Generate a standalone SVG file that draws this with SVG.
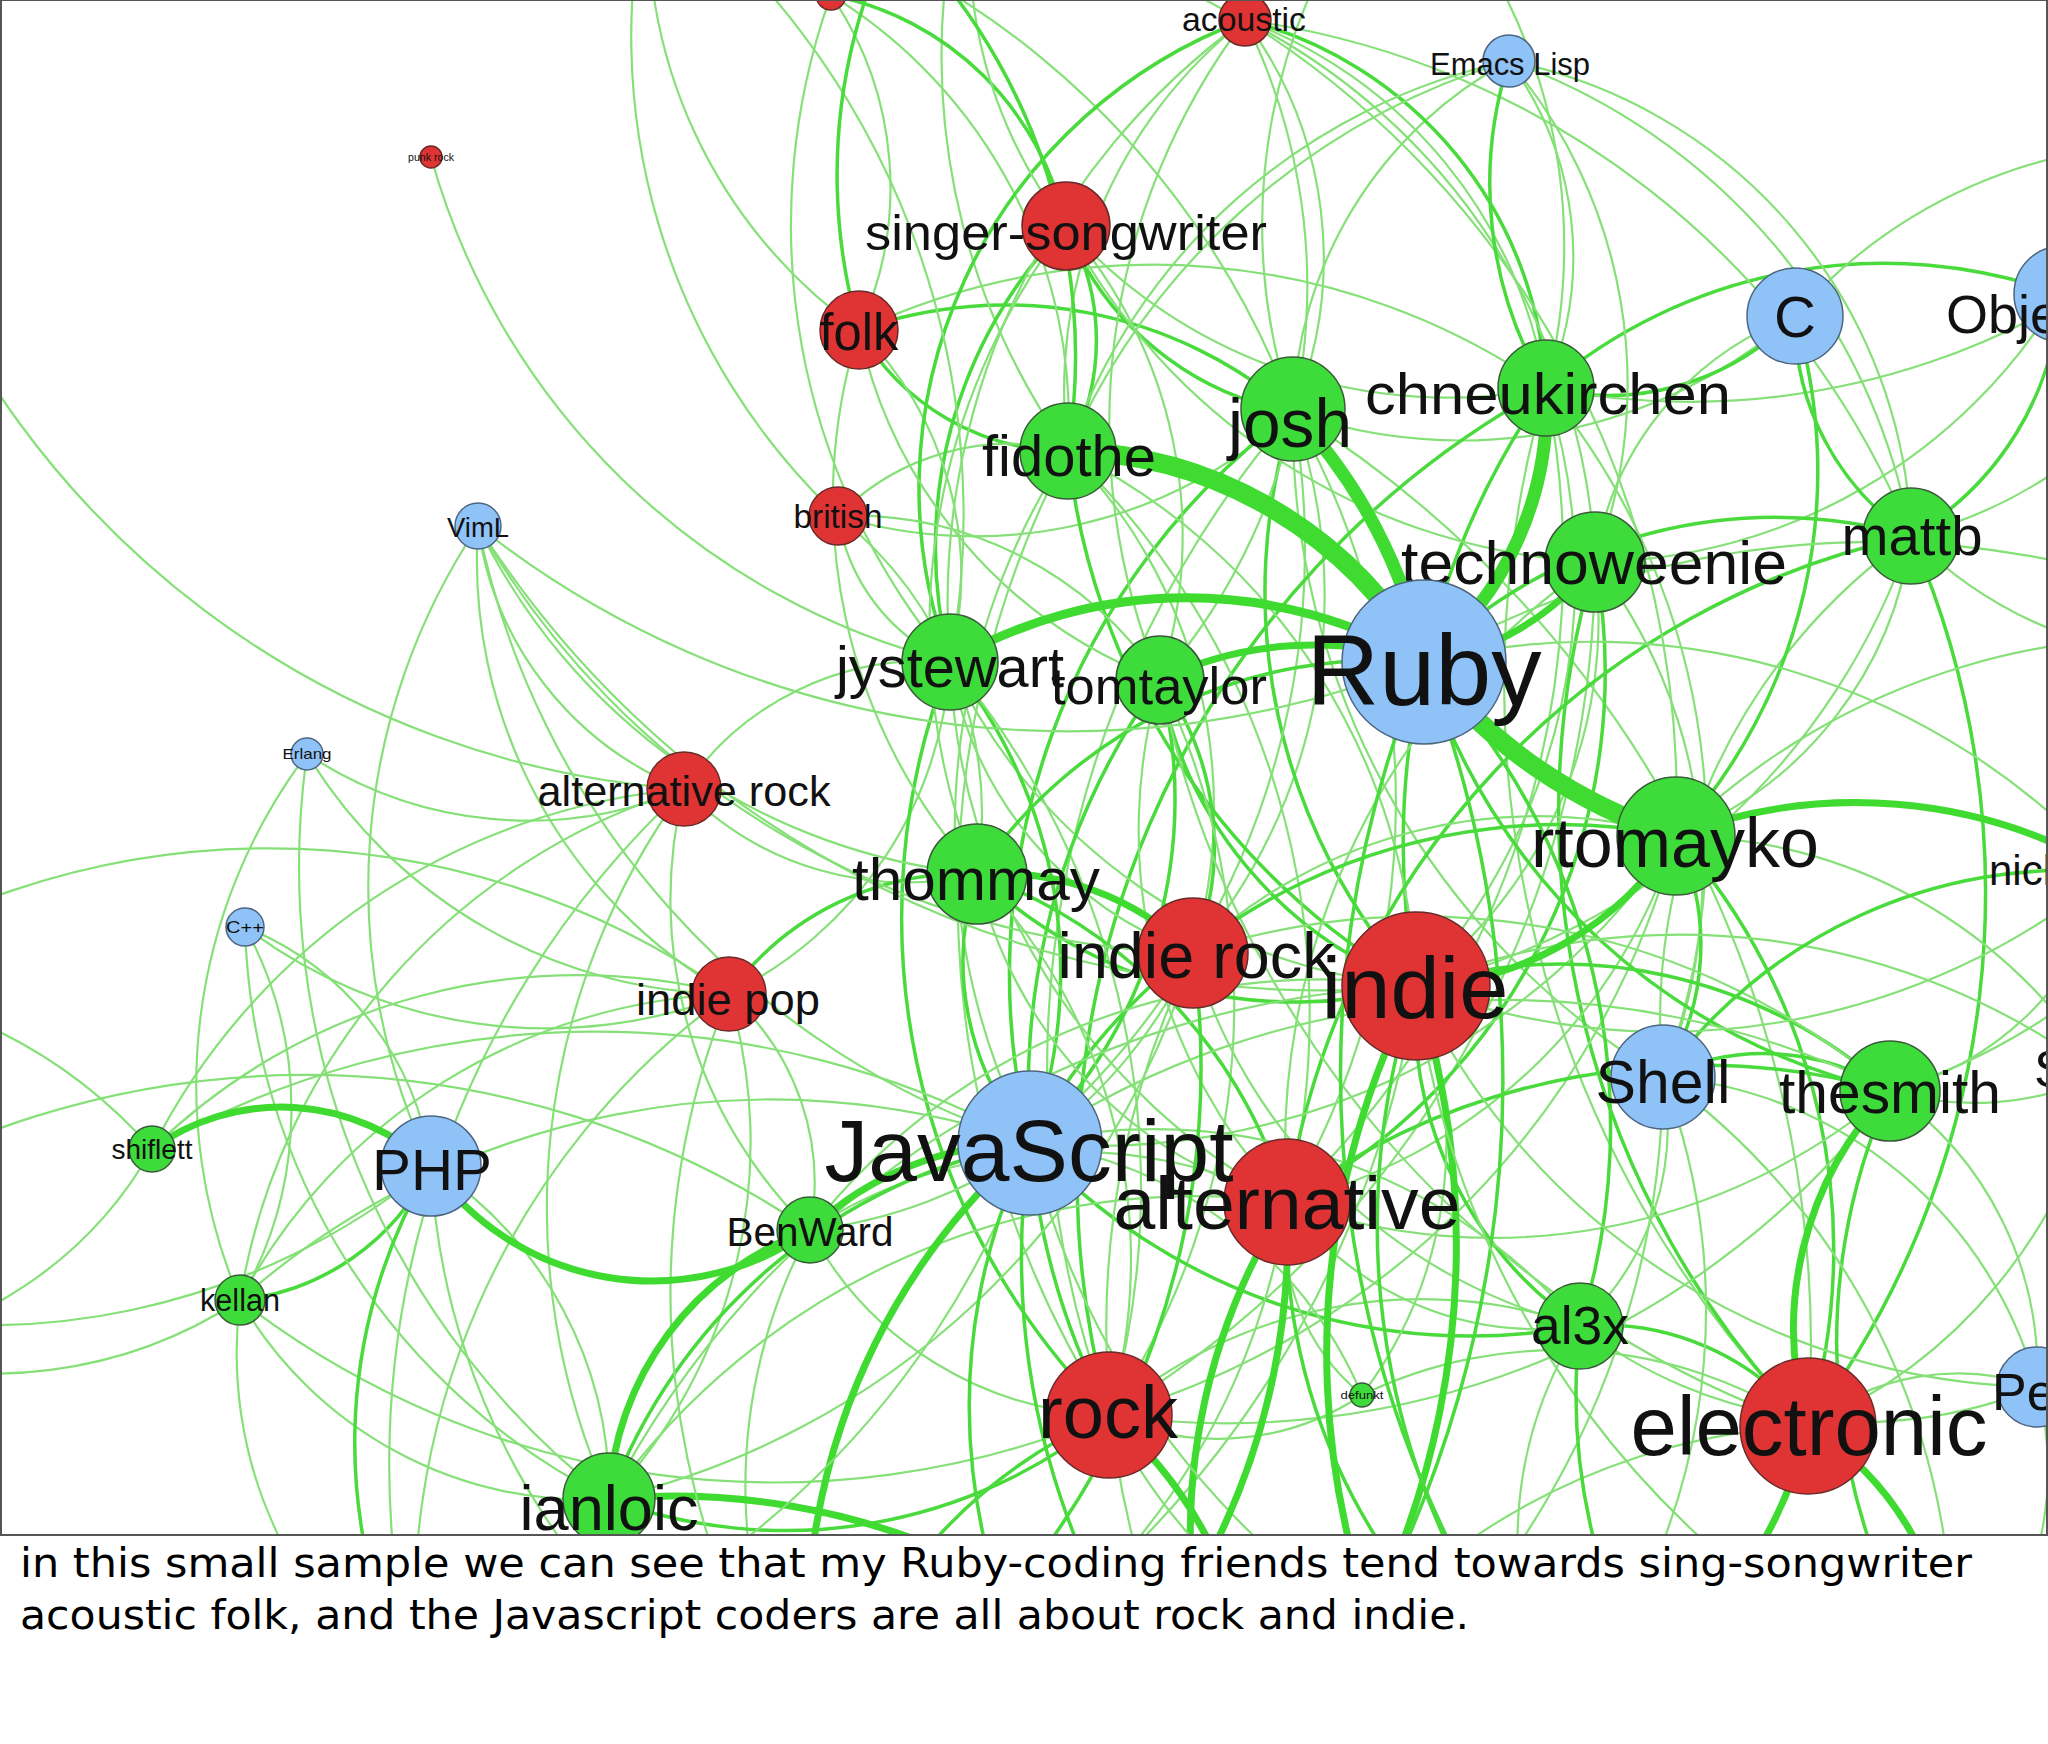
<svg xmlns="http://www.w3.org/2000/svg" width="2048" height="1744" viewBox="0 0 2048 1744">
<style>
#edges path{fill:none;stroke-linecap:round}
.l{stroke:#86e078;stroke-width:2.2}
.m{stroke:#48db3b;stroke-width:3.5}
.t{stroke:#3fdb31;stroke-width:7}
.x{stroke:#3fdb31;stroke-width:13}
.xx{stroke:#3fdb31;stroke-width:19}
.g{fill:#3ddc3a;stroke:#3a5a3a;stroke-width:1.5}
.r{fill:#e03434;stroke:#6a2a2a;stroke-width:1.5}
.b{fill:#8fc2f6;stroke:#4d6680;stroke-width:1.5}
.nodes text{font-family:"Liberation Sans",Arial,Helvetica,sans-serif;fill:#111;text-anchor:middle}
.cap{font-family:"DejaVu Sans","Open Sans",sans-serif;font-size:40px;fill:#000}
</style>
<defs>
<clipPath id="frame"><rect x="0" y="0" width="2048" height="1535"/></clipPath>
</defs>
<rect x="0" y="0" width="2048" height="1744" fill="#fff"/>
<g clip-path="url(#frame)">
<g id="edges">
<!-- josh -->
<path class="m" d="M1293,412 A300,300 0 0,1 1066,226"/>
<path class="l" d="M1293,412 A400,400 0 0,0 1245,20"/>
<path class="m" d="M1293,412 A440,440 0 0,0 859,330"/>
<path class="l" d="M1293,412 A470,470 0 0,1 838,516"/>
<path class="l" d="M1293,412 A550,550 0 0,1 1193,953"/>
<path class="m" d="M1293,412 A590,590 0 0,0 1416,986"/>
<path class="l" d="M1293,412 A790,790 0 0,1 1287,1202"/>
<path class="l" d="M1293,412 A780,780 0 0,1 1030,1143"/>
<path class="m" d="M1293,412 A700,700 0 0,0 1030,1143"/>
<path class="l" d="M1293,412 A510,510 0 0,0 1795,316"/>
<path class="l" d="M1293,412 A410,410 0 0,1 1509,61"/>
<path class="l" d="M1293,412 A1000,1000 0 0,0 1109,1415"/>
<path class="l" d="M1293,412 A1100,1100 0 0,1 1808,1426"/>
<path class="l" d="M1293,412 A760,760 0 0,0 1663,1077"/>
<path class="l" d="M1293,412 A830,830 0 0,0 650,-120"/>
<!-- chneukirchen -->
<path class="m" d="M1546,388 A260,260 0 0,0 1795,316"/>
<path class="l" d="M1546,388 A330,330 0 0,0 1509,61"/>
<path class="l" d="M1546,388 A470,470 0 0,0 1245,20"/>
<path class="m" d="M1245,20 A400,400 0 0,1 1546,388"/>
<path class="l" d="M1546,388 A510,510 0 0,1 1066,226"/>
<path class="l" d="M1546,388 A610,610 0 0,1 1416,986"/>
<path class="m" d="M1546,388 A800,800 0 0,0 1416,986"/>
<path class="l" d="M1546,388 A1060,1060 0 0,0 1808,1426"/>
<path class="m" d="M1546,388 A520,520 0 0,1 2060,294"/>
<path class="l" d="M1546,388 A700,700 0 0,1 1663,1077"/>
<path class="l" d="M1546,388 A880,880 0 0,1 1287,1202"/>
<path class="m" d="M1546,388 A900,900 0 0,0 1109,1415"/>
<path class="l" d="M1546,388 A690,690 0 0,0 859,330"/>
<path class="l" d="M1546,388 A750,750 0 0,0 2250,150"/>
<!-- fidothe -->
<path class="m" d="M1068,451 A230,230 0 0,0 1066,226"/>
<path class="m" d="M1068,451 A240,240 0 0,1 859,330"/>
<path class="l" d="M1068,451 A470,470 0 0,1 1245,20"/>
<path class="l" d="M1068,451 A240,240 0 0,0 838,516"/>
<path class="l" d="M1068,451 A510,510 0 0,1 1193,953"/>
<path class="l" d="M1068,451 A620,620 0 0,1 1416,986"/>
<path class="m" d="M1068,451 A700,700 0 0,0 1416,986"/>
<path class="l" d="M1068,451 A690,690 0 0,0 1030,1143"/>
<path class="l" d="M1068,451 A960,960 0 0,0 1109,1415"/>
<path class="l" d="M1068,451 A780,780 0 0,1 1287,1202"/>
<path class="l" d="M1068,451 A600,600 0 0,1 1509,61"/>
<path class="l" d="M1509,61 A700,700 0 0,0 1068,451"/>
<path class="l" d="M1068,451 A500,500 0 0,0 831,-5"/>
<path class="l" d="M1068,451 A680,680 0 0,1 1000,-220"/>
<!-- technoweenie -->
<path class="l" d="M1595,562 A310,310 0 0,1 1795,316"/>
<path class="l" d="M1595,562 A550,550 0 0,0 2060,294"/>
<path class="l" d="M1595,562 A500,500 0 0,0 1509,61"/>
<path class="l" d="M1595,562 A460,460 0 0,1 1416,986"/>
<path class="m" d="M1595,562 A880,880 0 0,0 1808,1426"/>
<path class="l" d="M1595,562 A1000,1000 0 0,1 1109,1415"/>
<path class="l" d="M1595,562 A520,520 0 0,1 1663,1077"/>
<path class="l" d="M1595,562 A710,710 0 0,0 1287,1202"/>
<path class="m" d="M1595,562 A600,600 0 0,1 1287,1202"/>
<path class="l" d="M1595,562 A640,640 0 0,0 1245,20"/>
<path class="l" d="M1595,562 A630,630 0 0,1 1066,226"/>
<!-- mattb -->
<path class="m" d="M1911,536 A500,500 0 0,0 1424,662"/>
<path class="m" d="M1911,536 A890,890 0 0,1 1808,1426"/>
<path class="l" d="M1911,536 A690,690 0 0,1 1416,986"/>
<path class="l" d="M1911,536 A590,590 0 0,0 1663,1077"/>
<path class="l" d="M1911,536 A375,375 0 0,1 1676,836"/>
<path class="l" d="M1911,536 A420,420 0 0,0 2300,650"/>
<path class="l" d="M1911,536 A840,840 0 0,0 1245,20"/>
<path class="l" d="M1911,536 A620,620 0 0,0 1509,61"/>
<path class="l" d="M1509,61 A500,500 0 0,1 1911,536"/>
<path class="m" d="M1911,536 A800,800 0 0,0 1287,1202"/>
<path class="m" d="M1911,536 A300,300 0 0,0 2060,294"/>
<path class="m" d="M1911,536 A260,260 0 0,1 1795,316"/>
<!-- jystewart -->
<path class="m" d="M950,662 A460,460 0 0,1 1066,226"/>
<path class="l" d="M950,662 A345,345 0 0,0 859,330"/>
<path class="l" d="M950,662 A190,190 0 0,1 838,516"/>
<path class="l" d="M950,662 A720,720 0 0,1 1245,20"/>
<path class="m" d="M1245,20 A500,500 0 0,0 950,662"/>
<path class="l" d="M950,662 A375,375 0 0,0 1193,953"/>
<path class="l" d="M950,662 A565,565 0 0,0 1416,986"/>
<path class="m" d="M950,662 A490,490 0 0,1 1030,1143"/>
<path class="l" d="M950,662 A290,290 0 0,0 684,789"/>
<path class="l" d="M950,662 A395,395 0 0,1 729,994"/>
<path class="l" d="M950,662 A820,820 0 0,1 1109,1415"/>
<path class="m" d="M950,662 A700,700 0 0,0 1109,1415"/>
<path class="l" d="M950,662 A640,640 0 0,0 1287,1202"/>
<path class="l" d="M431,157 A720,720 0 0,0 950,662"/>
<path class="l" d="M950,662 A800,800 0 0,0 650,-120"/>
<!-- tomtaylor -->
<path class="l" d="M1160,680 A470,470 0 0,0 1066,226"/>
<path class="m" d="M1160,680 A280,280 0 0,1 1193,953"/>
<path class="m" d="M1160,680 A400,400 0 0,0 1416,986"/>
<path class="m" d="M1160,680 A480,480 0 0,1 1030,1143"/>
<path class="l" d="M1160,680 A540,540 0 0,0 1287,1202"/>
<path class="l" d="M1160,680 A740,740 0 0,1 1109,1415"/>
<path class="m" d="M1160,680 A700,700 0 0,0 1109,1415"/>
<path class="l" d="M1160,680 A1000,1000 0 0,0 1808,1426"/>
<path class="l" d="M1160,680 A480,480 0 0,1 859,330"/>
<path class="l" d="M1160,680 A670,670 0 0,1 1245,20"/>
<path class="l" d="M1245,20 A600,600 0 0,1 1160,680"/>
<path class="l" d="M1160,680 A370,370 0 0,0 838,516"/>
<!-- rtomayko -->
<path class="m" d="M1676,836 A540,540 0 0,0 1795,316"/>
<path class="m" d="M1676,836 A250,250 0 0,1 1663,1077"/>
<path class="m" d="M1676,836 A620,620 0 0,1 1808,1426"/>
<path class="l" d="M1676,836 A540,540 0 0,1 1287,1202"/>
<path class="l" d="M1676,836 A500,500 0 0,0 1193,953"/>
<path class="l" d="M1676,836 A920,920 0 0,0 1245,20"/>
<path class="l" d="M1676,836 A820,820 0 0,1 1109,1415"/>
<path class="l" d="M1676,836 A700,700 0 0,1 1030,1143"/>
<path class="m" d="M1676,836 A600,600 0 0,0 1030,1143"/>
<!-- thommay -->
<path class="m" d="M977,874 A490,490 0 0,1 1424,662"/>
<path class="m" d="M977,874 A280,280 0 0,0 1030,1143"/>
<path class="m" d="M977,874 A460,460 0 0,0 1416,986"/>
<path class="l" d="M977,874 A310,310 0 0,1 684,789"/>
<path class="m" d="M977,874 A290,290 0 0,0 729,994"/>
<path class="l" d="M977,874 A380,380 0 0,0 838,516"/>
<path class="l" d="M977,874 A560,560 0 0,1 1109,1415"/>
<path class="l" d="M977,874 A440,440 0 0,0 1287,1202"/>
<path class="m" d="M977,874 A500,500 0 0,1 1287,1202"/>
<path class="l" d="M478,526 A620,620 0 0,0 977,874"/>
<path class="l" d="M977,874 A560,560 0 0,1 859,330"/>
<path class="l" d="M977,874 A660,660 0 0,1 1066,226"/>
<!-- thesmith -->
<path class="m" d="M1890,1091 A230,230 0 0,0 1663,1077"/>
<path class="m" d="M1890,1091 A630,630 0 0,1 1424,662"/>
<path class="m" d="M1890,1091 A490,490 0 0,0 1416,986"/>
<path class="l" d="M1890,1091 A830,830 0 0,1 1109,1415"/>
<path class="l" d="M1890,1091 A610,610 0 0,1 1287,1202"/>
<path class="m" d="M1890,1091 A700,700 0 0,0 1287,1202"/>
<path class="l" d="M1890,1091 A860,860 0 0,0 1030,1143"/>
<path class="l" d="M1890,1091 A340,340 0 0,1 2037,1387"/>
<path class="l" d="M1890,1091 A300,300 0 0,0 2100,1075"/>
<path class="l" d="M1890,1091 A720,720 0 0,0 1193,953"/>
<!-- shiflett -->
<path class="l" d="M152,1149 A500,500 0 0,0 -250,980"/>
<path class="l" d="M152,1149 A400,400 0 0,1 -150,1350"/>
<path class="l" d="M152,1149 A610,610 0 0,1 729,994"/>
<path class="l" d="M152,1149 A660,660 0 0,1 684,789"/>
<path class="l" d="M152,1149 A900,900 0 0,1 1030,1143"/>
<!-- BenWard -->
<path class="l" d="M810,1230 A250,250 0 0,0 729,994"/>
<path class="l" d="M810,1230 A460,460 0 0,1 684,789"/>
<path class="l" d="M810,1230 A480,480 0 0,0 1193,953"/>
<path class="l" d="M810,1230 A650,650 0 0,1 1416,986"/>
<path class="l" d="M810,1230 A350,350 0 0,0 1109,1415"/>
<path class="l" d="M810,1230 A480,480 0 0,1 1287,1202"/>
<path class="l" d="M810,1230 A540,540 0 0,0 820,1760"/>
<!-- kellan -->
<path class="m" d="M240,1300 A240,240 0 0,0 431,1166"/>
<path class="l" d="M240,1300 A380,380 0 0,0 245,927"/>
<path class="l" d="M240,1300 A580,580 0 0,1 729,994"/>
<path class="l" d="M240,1300 A800,800 0 0,1 1030,1143"/>
<path class="l" d="M240,1300 A870,870 0 0,0 1109,1415"/>
<path class="l" d="M240,1300 A450,450 0 0,1 -150,1350"/>
<path class="l" d="M240,1300 A640,640 0 0,1 684,789"/>
<!-- al3x -->
<path class="m" d="M1580,1326 A670,670 0 0,0 1424,662"/>
<path class="m" d="M1580,1326 A260,260 0 0,1 1808,1426"/>
<path class="m" d="M1580,1326 A380,380 0 0,1 1416,986"/>
<path class="l" d="M1580,1326 A270,270 0 0,0 1663,1077"/>
<path class="l" d="M1580,1326 A480,480 0 0,0 1109,1415"/>
<path class="l" d="M1580,1326 A310,310 0 0,1 1287,1202"/>
<path class="l" d="M1580,1326 A540,540 0 0,1 1193,953"/>
<path class="l" d="M1580,1326 A560,560 0 0,0 1030,1143"/>
<path class="m" d="M1580,1326 A600,600 0 0,1 1030,1143"/>
<path class="l" d="M1580,1326 A400,400 0 0,0 1560,1720"/>
<!-- ianloic -->
<path class="l" d="M609,1499 A390,390 0 0,0 431,1166"/>
<path class="l" d="M609,1499 A520,520 0 0,0 729,994"/>
<path class="l" d="M609,1499 A710,710 0 0,1 684,789"/>
<path class="m" d="M609,1499 A510,510 0 0,0 1109,1415"/>
<path class="l" d="M609,1499 A720,720 0 0,1 1287,1202"/>
<path class="l" d="M609,1499 A950,950 0 0,1 1416,986"/>
<path class="l" d="M609,1499 A800,800 0 0,0 1193,953"/>
<path class="l" d="M609,1499 A400,400 0 0,1 240,1300"/>
<path class="l" d="M609,1499 A660,660 0 0,1 245,927"/>
<path class="l" d="M609,1499 A800,800 0 0,1 307,754"/>
<path class="m" d="M609,1499 A560,560 0 0,1 1030,1143"/>
<path class="t" d="M609,1499 A700,700 0 0,1 1250,1800"/>
<!-- small green -->
<path class="l" d="M1362,1395 A420,420 0 0,0 1030,1143"/>
<path class="l" d="M1362,1395 A450,450 0 0,1 1808,1426"/>
<path class="l" d="M1362,1395 A260,260 0 0,1 1109,1415"/>
<path class="l" d="M1362,1395 A420,420 0 0,0 1416,986"/>
<path class="l" d="M1362,1395 A210,210 0 0,1 1287,1202"/>
<!-- VimL, Erlang, C++ -->
<path class="l" d="M478,526 A500,500 0 0,0 729,994"/>
<path class="l" d="M478,526 A820,820 0 0,0 1030,1143"/>
<path class="l" d="M478,526 A330,330 0 0,0 684,789"/>
<path class="l" d="M478,526 A850,850 0 0,0 1193,953"/>
<path class="l" d="M478,526 A950,950 0 0,0 1424,662"/>
<path class="l" d="M478,526 A1000,1000 0 0,0 1416,986"/>
<path class="l" d="M478,526 A650,650 0 0,0 431,1166"/>
<path class="l" d="M307,754 A400,400 0 0,0 684,789"/>
<path class="l" d="M307,754 A550,550 0 0,0 240,1300"/>
<path class="l" d="M307,754 A500,500 0 0,0 729,994"/>
<path class="l" d="M245,927 A500,500 0 0,0 729,994"/>
<path class="l" d="M245,927 A300,300 0 0,1 431,1166"/>
<path class="l" d="M-100,200 A900,900 0 0,0 684,789"/>
<path class="l" d="M-200,1000 A800,800 0 0,1 729,994"/>
<path class="l" d="M-200,1230 A900,900 0 0,1 810,1230"/>
<path class="l" d="M-200,1300 A700,700 0 0,0 431,1166"/>
<!-- top -->
<path class="m" d="M1509,61 A400,400 0 0,0 1546,388"/>
<path class="l" d="M1245,20 A500,500 0 0,1 1000,-220"/>
<path class="l" d="M831,-5 A340,340 0 0,1 859,330"/>
<path class="l" d="M831,-5 A680,680 0 0,0 950,662"/>
<path class="m" d="M831,-5 A300,300 0 0,1 1066,226"/>
<path class="l" d="M1000,-220 A460,460 0 0,0 1066,226"/>
<path class="m" d="M1000,-220 A560,560 0 0,0 859,330"/>
<path class="l" d="M1400,-150 A580,580 0 0,0 1293,412"/>
<path class="l" d="M1400,-150 A560,560 0 0,1 1546,388"/>
<path class="l" d="M650,-120 A500,500 0 0,0 859,330"/>
<path class="l" d="M650,-120 A660,660 0 0,0 838,516"/>
<path class="m" d="M700,-200 A600,600 0 0,1 1068,451"/>
<!-- right -->
<path class="l" d="M2250,150 A500,500 0 0,0 1795,316"/>
<path class="l" d="M2250,150 A450,450 0 0,1 1911,536"/>
<path class="m" d="M2250,150 A400,400 0 0,0 2060,294"/>
<path class="l" d="M2300,650 A700,700 0 0,0 1676,836"/>
<path class="l" d="M2300,650 A600,600 0 0,1 1890,1091"/>
<path class="l" d="M2300,650 A900,900 0 0,0 1424,662"/>
<path class="l" d="M2100,1075 A500,500 0 0,1 1808,1426"/>
<path class="l" d="M2100,1075 A700,700 0 0,0 1416,986"/>
<path class="l" d="M2100,1075 A500,500 0 0,0 1676,836"/>
<path class="l" d="M2110,872 A300,300 0 0,1 1890,1091"/>
<path class="m" d="M2110,872 A500,500 0 0,0 1663,1077"/>
<path class="l" d="M2110,872 A700,700 0 0,1 1416,986"/>
<path class="l" d="M2110,872 A700,700 0 0,0 1424,662"/>
<path class="l" d="M2037,1387 A240,240 0 0,0 1808,1426"/>
<path class="l" d="M2037,1387 A460,460 0 0,1 1580,1326"/>
<path class="l" d="M2037,1387 A420,420 0 0,0 1663,1077"/>
<path class="l" d="M2037,1387 A700,700 0 0,1 1416,986"/>
<!-- bottom -->
<path class="t" d="M820,1760 A650,650 0 0,1 1030,1143"/>
<path class="m" d="M820,1760 A500,500 0 0,1 1109,1415"/>
<path class="m" d="M820,1760 A820,820 0 0,0 1193,953"/>
<path class="l" d="M820,1760 A700,700 0 0,0 1287,1202"/>
<path class="l" d="M820,1760 A800,800 0 0,1 729,994"/>
<path class="l" d="M820,1760 A700,700 0 0,1 431,1166"/>
<path class="l" d="M820,1760 A1000,1000 0 0,0 1416,986"/>
<path class="t" d="M1250,1800 A850,850 0 0,0 1416,986"/>
<path class="t" d="M1250,1800 A620,620 0 0,1 1287,1202"/>
<path class="m" d="M1250,1800 A760,760 0 0,1 1030,1143"/>
<path class="t" d="M1250,1800 A420,420 0 0,0 1109,1415"/>
<path class="l" d="M1250,1800 A850,850 0 0,1 1193,953"/>
<path class="m" d="M1250,1800 A1150,1150 0 0,0 1424,662"/>
<path class="l" d="M1250,1800 A650,650 0 0,1 1808,1426"/>
<path class="l" d="M1250,1800 A850,850 0 0,0 1663,1077"/>
<path class="m" d="M1560,1720 A760,760 0 0,1 1416,986"/>
<path class="m" d="M1560,1720 A1060,1060 0 0,1 1424,662"/>
<path class="t" d="M1560,1720 A420,420 0 0,0 1808,1426"/>
<path class="m" d="M1560,1720 A580,580 0 0,1 1287,1202"/>
<path class="l" d="M1560,1720 A650,650 0 0,0 1663,1077"/>
<path class="l" d="M1560,1720 A550,550 0 0,1 1109,1415"/>
<path class="l" d="M1560,1720 A800,800 0 0,1 1030,1143"/>
<path class="m" d="M420,1700 A540,540 0 0,1 431,1166"/>
<path class="l" d="M420,1700 A760,760 0 0,1 729,994"/>
<path class="l" d="M420,1700 A920,920 0 0,1 684,789"/>
<path class="l" d="M420,1700 A880,880 0 0,0 1030,1143"/>
<path class="l" d="M420,1700 A420,420 0 0,1 240,1300"/>
<path class="t" d="M1950,1700 A300,300 0 0,0 1808,1426"/>
<path class="m" d="M1950,1700 A620,620 0 0,1 1890,1091"/>
<path class="l" d="M1950,1700 A700,700 0 0,0 1663,1077"/>
<path class="l" d="M1950,1700 A900,900 0 0,1 1416,986"/>
<path class="l" d="M1950,1700 A320,320 0 0,0 2037,1387"/>
<path class="t" d="M1000,1800 A700,700 0 0,0 1287,1202"/>
<path class="t" d="M1450,1780 A800,800 0 0,1 1416,986"/>
<path class="m" d="M1700,1760 A600,600 0 0,1 1580,1326"/>
<path class="m" d="M1100,1780 A600,600 0 0,1 1030,1143"/>
<!-- heavy edges -->
<path class="t" d="M977,874 A280,280 0 0,1 1193,953"/>
<path class="t" d="M1890,1091 A340,340 0 0,0 1808,1426"/>
<path class="t" d="M1676,836 A320,320 0 0,1 1416,986"/>
<path class="t" d="M1676,836 A500,500 0 0,1 2110,872"/>
<path class="t" d="M152,1149 A220,220 0 0,1 431,1166"/>
<path class="t" d="M431,1166 A270,270 0 0,0 810,1230"/>
<path class="t" d="M609,1499 A300,300 0 0,1 810,1230"/>
<path class="t" d="M810,1230 A320,320 0 0,1 1030,1143"/>
<path class="t" d="M1595,562 A260,260 0 0,1 1424,662"/>
<path class="t" style="stroke-width:9" d="M950,662 A470,470 0 0,1 1424,662"/>
<path class="t" d="M1160,680 A360,360 0 0,1 1424,662"/>
<path class="x" d="M1546,388 A330,330 0 0,1 1424,662"/>
<path class="x" d="M1293,412 A520,520 0 0,1 1424,662"/>
<path class="xx" d="M1676,836 A520,520 0 0,1 1424,662"/>
<path class="xx" d="M1068,451 A420,420 0 0,1 1424,662"/>
</g>
<g class="nodes">
<g id="n-punk"><circle class="r" cx="431" cy="157" r="11"/><text x="431" y="161" font-size="11" textLength="46" lengthAdjust="spacingAndGlyphs" fill="#444">punk rock</text></g>
<g id="n-topred"><circle class="r" cx="831" cy="-5" r="15"/></g>
<g id="n-erlang"><circle class="b" cx="307" cy="754" r="16"/><text x="307" y="759" font-size="15" textLength="49" lengthAdjust="spacingAndGlyphs">Erlang</text></g>
<g id="n-cpp"><circle class="b" cx="245" cy="927" r="19"/><text x="245" y="933" font-size="17" textLength="38" lengthAdjust="spacingAndGlyphs">C++</text></g>
<g id="n-viml"><circle class="b" cx="478" cy="526" r="23"/><text x="478" y="537" font-size="27" textLength="62" lengthAdjust="spacingAndGlyphs">VimL</text></g>
<g id="n-smallgreen"><circle class="g" cx="1362" cy="1395" r="12"/><text x="1362" y="1399" font-size="11" textLength="43" lengthAdjust="spacingAndGlyphs" fill="#333">defunkt</text></g>
<g id="n-emacslisp"><circle class="b" cx="1509" cy="61" r="26"/><text x="1510" y="75" font-size="31" textLength="160" lengthAdjust="spacingAndGlyphs">Emacs Lisp</text></g>
<g id="n-acoustic"><circle class="r" cx="1245" cy="20" r="26"/><text x="1244" y="31" font-size="33" textLength="124" lengthAdjust="spacingAndGlyphs">acoustic</text></g>
<g id="n-british"><circle class="r" cx="838" cy="516" r="29"/><text x="838" y="528" font-size="33" textLength="89" lengthAdjust="spacingAndGlyphs">british</text></g>
<g id="n-shiflett"><circle class="g" cx="152" cy="1149" r="23"/><text x="152" y="1159" font-size="28" textLength="81" lengthAdjust="spacingAndGlyphs">shiflett</text></g>
<g id="n-kellan"><circle class="g" cx="240" cy="1300" r="25"/><text x="240" y="1311" font-size="31" textLength="80" lengthAdjust="spacingAndGlyphs">kellan</text></g>
<g id="n-benward"><circle class="g" cx="810" cy="1230" r="33"/><text x="810" y="1246" font-size="40" textLength="167" lengthAdjust="spacingAndGlyphs">BenWard</text></g>
<g id="n-folk"><circle class="r" cx="859" cy="330" r="39"/><text x="859" y="350" font-size="51" textLength="79" lengthAdjust="spacingAndGlyphs">folk</text></g>
<g id="n-singer-songwriter"><circle class="r" cx="1066" cy="226" r="44"/><text x="1066" y="250" font-size="50" textLength="402" lengthAdjust="spacingAndGlyphs">singer-songwriter</text></g>
<g id="n-c"><circle class="b" cx="1795" cy="316" r="48"/><text x="1795" y="337" font-size="58">C</text></g>
<g id="n-objc"><circle class="b" cx="2062" cy="294" r="48"/><text x="1946" y="333" font-size="54" style="text-anchor:start">Obje</text></g>
<g id="n-perl"><circle class="b" cx="2037" cy="1387" r="40"/><text x="1992" y="1410" font-size="52" style="text-anchor:start">Pe</text></g>
<g id="n-chneukirchen"><circle class="g" cx="1546" cy="388" r="48"/><text x="1548" y="414" font-size="57" textLength="366" lengthAdjust="spacingAndGlyphs">chneukirchen</text></g>
<g id="n-josh"><circle class="g" cx="1293" cy="409" r="52"/><text x="1290" y="447" font-size="68" textLength="124" lengthAdjust="spacingAndGlyphs">josh</text></g>
<g id="n-fidothe"><circle class="g" cx="1068" cy="451" r="48"/><text x="1069" y="476" font-size="58" textLength="174" lengthAdjust="spacingAndGlyphs">fidothe</text></g>
<g id="n-technoweenie"><circle class="g" cx="1595" cy="562" r="50"/><text x="1594" y="584" font-size="62" textLength="386" lengthAdjust="spacingAndGlyphs">technoweenie</text></g>
<g id="n-mattb"><circle class="g" cx="1911" cy="536" r="48"/><text x="1912" y="555" font-size="56" textLength="141" lengthAdjust="spacingAndGlyphs">mattb</text></g>
<g id="n-jystewart"><circle class="g" cx="950" cy="662" r="48"/><text x="950" y="687" font-size="58" textLength="228" lengthAdjust="spacingAndGlyphs">jystewart</text></g>
<g id="n-tomtaylor"><circle class="g" cx="1160" cy="680" r="44"/><text x="1159" y="704" font-size="52" textLength="216" lengthAdjust="spacingAndGlyphs">tomtaylor</text></g>
<g id="n-alternative-rock"><circle class="r" cx="684" cy="789" r="37"/><text x="684" y="806" font-size="43" textLength="293" lengthAdjust="spacingAndGlyphs">alternative rock</text></g>
<g id="n-indie-pop"><circle class="r" cx="729" cy="994" r="37"/><text x="728" y="1015" font-size="45" textLength="184" lengthAdjust="spacingAndGlyphs">indie pop</text></g>
<g id="n-rtomayko"><circle class="g" cx="1676" cy="836" r="59"/><text x="1675" y="867" font-size="70" textLength="288" lengthAdjust="spacingAndGlyphs">rtomayko</text></g>
<g id="n-nick"><text x="1989" y="885" font-size="42" style="text-anchor:start">nick</text></g>
<g id="n-thommay"><circle class="g" cx="977" cy="874" r="50"/><text x="976" y="900" font-size="60" textLength="248" lengthAdjust="spacingAndGlyphs">thommay</text></g>
<g id="n-indie-rock"><circle class="r" cx="1193" cy="953" r="55"/><text x="1196" y="978" font-size="65" textLength="277" lengthAdjust="spacingAndGlyphs">indie rock</text></g>
<g id="n-indie"><circle class="r" cx="1416" cy="986" r="74"/><text x="1415" y="1018" font-size="88" textLength="187" lengthAdjust="spacingAndGlyphs">indie</text></g>
<g id="n-shell"><circle class="b" cx="1663" cy="1077" r="52"/><text x="1663" y="1103" font-size="61" textLength="135" lengthAdjust="spacingAndGlyphs">Shell</text></g>
<g id="n-thesmith"><circle class="g" cx="1890" cy="1091" r="50"/><text x="1890" y="1113" font-size="59" textLength="222" lengthAdjust="spacingAndGlyphs">thesmith</text></g>
<g id="n-s"><text x="2034" y="1087" font-size="52" style="text-anchor:start">S</text></g>
<g id="n-php"><circle class="b" cx="431" cy="1166" r="50"/><text x="432" y="1190" font-size="58" textLength="120" lengthAdjust="spacingAndGlyphs">PHP</text></g>
<g id="n-alternative"><circle class="r" cx="1287" cy="1202" r="63"/><text x="1287" y="1229" font-size="75" textLength="347" lengthAdjust="spacingAndGlyphs">alternative</text></g>
<g id="n-javascript"><circle class="b" cx="1030" cy="1143" r="72"/><text x="1029" y="1181" font-size="88" textLength="409" lengthAdjust="spacingAndGlyphs">JavaScript</text></g>
<g id="n-al3x"><circle class="g" cx="1580" cy="1326" r="43"/><text x="1580" y="1344" font-size="53" textLength="98" lengthAdjust="spacingAndGlyphs">al3x</text></g>
<g id="n-rock"><circle class="r" cx="1109" cy="1415" r="63"/><text x="1108" y="1438" font-size="74" textLength="140" lengthAdjust="spacingAndGlyphs">rock</text></g>
<g id="n-electronic"><circle class="r" cx="1808" cy="1426" r="68"/><text x="1809" y="1455" font-size="83" textLength="357" lengthAdjust="spacingAndGlyphs">electronic</text></g>
<g id="n-ruby"><circle class="b" cx="1424" cy="662" r="82"/><text x="1424" y="705" font-size="100" textLength="235" lengthAdjust="spacingAndGlyphs">Ruby</text></g>
<g id="n-ianloic"><circle class="g" cx="609" cy="1499" r="46"/><text x="609" y="1530" font-size="63" textLength="179" lengthAdjust="spacingAndGlyphs">ianloic</text></g>
</g>
</g>
<rect x="1" y="0" width="2046" height="1535" fill="none" stroke="#555" stroke-width="2"/>
<g id="caption">
<text class="cap" x="20" y="1577" textLength="1952" lengthAdjust="spacingAndGlyphs">in this small sample we can see that my Ruby-coding friends tend towards sing-songwriter</text>
<text class="cap" x="20" y="1629" textLength="1449" lengthAdjust="spacingAndGlyphs">acoustic folk, and the Javascript coders are all about rock and indie.</text>
</g>
</svg>
